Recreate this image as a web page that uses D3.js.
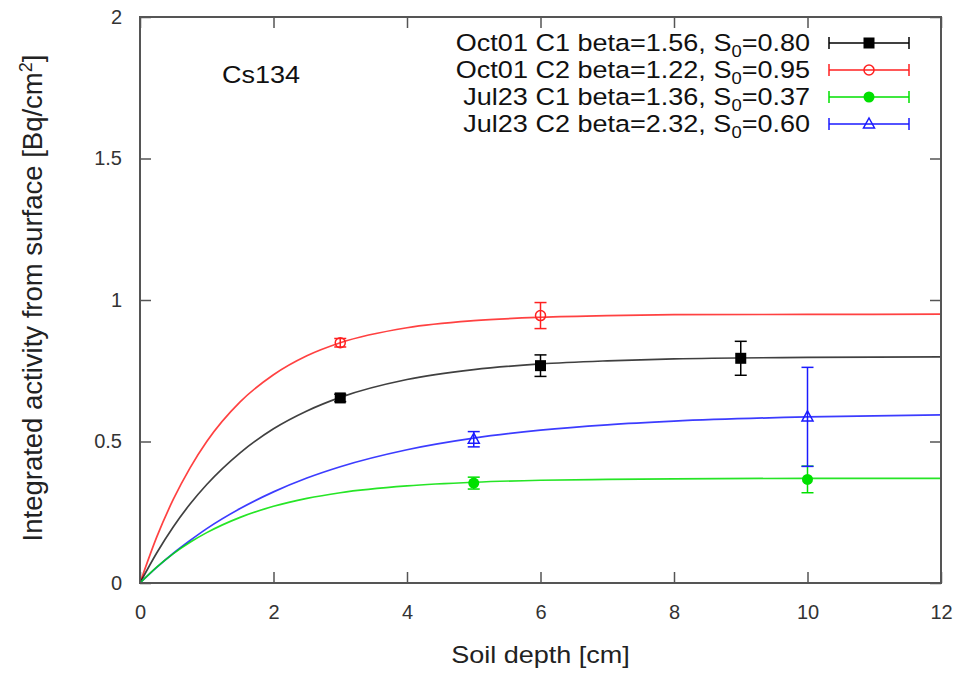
<!DOCTYPE html>
<html><head><meta charset="utf-8">
<script src="https://cdn.jsdelivr.net/npm/d3@7"></script>
<style>
html,body{margin:0;padding:0;background:#fff;}
text{font-family:"Liberation Sans",Arial,sans-serif;}
</style></head>
<body><svg id="chart" width="955" height="673"></svg>
<script>
// ---- data ----
const seriesNames = ["Oct01 C1", "Oct01 C2", "Jul23 C1", "Jul23 C2"];
const betaLabels = ["1.56", "1.22", "1.36", "2.32"];
const s0Labels = ["0.80", "0.95", "0.37", "0.60"];
const seriesColors = ["#000000", "#ff2020", "#00e000", "#1a1aff"];
const seriesMarkers = ["squareFilled", "circleOpen", "circleFilled", "triangleOpen"];

// measured points
const pointsX = [[3, 6, 9], [3, 6], [5, 10], [5, 10]];
const pointsY = [[0.654, 0.768, 0.794], [0.849, 0.945], [0.353, 0.366], [0.508, 0.587]];
const pointsErr = [[0.013, 0.038, 0.06], [0.015, 0.046], [0.021, 0.047], [0.027, 0.175]];

// fitted curves
const curveX = [0, 0.25, 0.5, 0.75, 1, 1.5, 2, 2.5, 3, 4, 5, 6, 7, 8, 10, 12];
const curveY = [
  [0, 0.106, 0.199, 0.279, 0.348, 0.460, 0.545, 0.608, 0.656, 0.719, 0.754, 0.774, 0.785, 0.792, 0.797, 0.799],
  [0, 0.162, 0.296, 0.407, 0.500, 0.640, 0.736, 0.803, 0.849, 0.902, 0.927, 0.939, 0.945, 0.948, 0.949, 0.950],
  [0, 0.056, 0.104, 0.144, 0.178, 0.232, 0.271, 0.299, 0.319, 0.343, 0.356, 0.363, 0.366, 0.368, 0.370, 0.370],
  [0, 0.055, 0.105, 0.150, 0.192, 0.263, 0.322, 0.371, 0.411, 0.471, 0.512, 0.540, 0.559, 0.572, 0.587, 0.594]
];

const xTicks = [0, 2, 4, 6, 8, 10, 12];
const yTicks = [0, 0.5, 1, 1.5, 2];
const xTitle = "Soil depth [cm]";
const yTitle = "Integrated activity from surface [Bq/cm";
const annotation = "Cs134";

// ---- layout ----
const L = 140, R = 941, T = 17, B = 583;
const SX = 1.15; // horizontal stretch of the text
const svg = d3.select("#chart");
const x = d3.scaleLinear().domain([0, 12]).range([L, R]);
const y = d3.scaleLinear().domain([0, 2]).range([B, T]);
const frameColor = "#555";

// ticks (inward, mirrored)
const tickLen = 11;
const axB = d3.axisBottom(x).tickValues(xTicks).tickSize(-tickLen).tickSizeOuter(0).tickPadding(22).tickFormat(d3.format("~g"));
const axT = d3.axisTop(x).tickValues(xTicks).tickSize(-tickLen).tickSizeOuter(0).tickFormat("");
const axL = d3.axisLeft(y).tickValues(yTicks).tickSize(-tickLen).tickSizeOuter(0).tickPadding(18).tickFormat(d3.format("~g"));
const axR = d3.axisRight(y).tickValues(yTicks).tickSize(-tickLen).tickSizeOuter(0).tickFormat("");

function styleAxis(g){
  g.select(".domain").remove();
  g.selectAll(".tick line").attr("stroke", frameColor).attr("stroke-width", 1.5);
  g.selectAll(".tick text").attr("fill", "#333").style("font-size", "20px").style("font-family", "'Liberation Sans',Arial,sans-serif");
}
svg.append("g").attr("transform", `translate(0,${B})`).call(axB).call(styleAxis);
svg.append("g").attr("transform", `translate(0,${T})`).call(axT).call(styleAxis);
svg.append("g").attr("transform", `translate(${L},0)`).call(axL).call(styleAxis);
svg.append("g").attr("transform", `translate(${R},0)`).call(axR).call(styleAxis);

// curves
const line = d3.line().x(d => x(d[0])).y(d => y(d[1])).curve(d3.curveMonotoneX);
svg.append("clipPath").attr("id", "clip").append("rect")
  .attr("x", L).attr("y", T).attr("width", R - L).attr("height", B - T);
const plot = svg.append("g").attr("clip-path", "url(#clip)");
[1, 0, 3, 2].forEach(i => {
  plot.append("path")
    .attr("d", line(curveX.map((cx, k) => [cx, curveY[i][k]])))
    .attr("fill", "none").attr("stroke", seriesColors[i])
    .attr("stroke-width", 1.7).attr("stroke-opacity", i === 0 ? 0.75 : 0.85);
});

// markers
function drawMarker(g, type, cx, cy, color){
  const s = 5;
  if (type === "squareFilled") {
    g.append("rect").attr("x", cx - s - 0.5).attr("y", cy - s - 0.5).attr("width", 2*s + 1).attr("height", 2*s + 1).attr("fill", color);
  } else if (type === "circleOpen") {
    g.append("circle").attr("cx", cx).attr("cy", cy).attr("r", s).attr("fill", "none").attr("stroke", color).attr("stroke-width", 1.5);
  } else if (type === "circleFilled") {
    g.append("circle").attr("cx", cx).attr("cy", cy).attr("r", s + 0.5).attr("fill", color);
  } else if (type === "triangleOpen") {
    g.append("path").attr("d", `M${cx},${cy - s - 1}L${cx + s + 0.5},${cy + s - 1}L${cx - s - 0.5},${cy + s - 1}Z`)
      .attr("fill", "none").attr("stroke", color).attr("stroke-width", 1.5);
  }
}
function errorBar(g, cx, y1, y2, color){
  const c = 6;
  g.append("line").attr("x1", cx).attr("x2", cx).attr("y1", y1).attr("y2", y2).attr("stroke", color).attr("stroke-width", 1.5);
  [y1, y2].forEach(yy => g.append("line").attr("x1", cx - c).attr("x2", cx + c).attr("y1", yy).attr("y2", yy).attr("stroke", color).attr("stroke-width", 1.5));
}
const pts = svg.append("g");
[0, 1, 2, 3].forEach(i => {
  pointsX[i].forEach((px, k) => {
    const cx = x(px), cy = y(pointsY[i][k]);
    errorBar(pts, cx, y(pointsY[i][k] + pointsErr[i][k]), y(pointsY[i][k] - pointsErr[i][k]), seriesColors[i]);
    drawMarker(pts, seriesMarkers[i], cx, cy, seriesColors[i]);
  });
});

// frame
svg.append("rect").attr("x", L).attr("y", T).attr("width", R - L).attr("height", B - T)
  .attr("fill", "none").attr("stroke", frameColor).attr("stroke-width", 2);

// legend
const legY0 = 43, legDy = 27, legTextX = 810, legX1 = 829, legX2 = 909;
const leg = svg.append("g");
seriesNames.forEach((name, i) => {
  const yy = legY0 + i * legDy;
  const t = leg.append("text").attr("transform", `translate(${legTextX},${yy + 8}) scale(${SX},1)`)
    .attr("text-anchor", "end").attr("fill", "#111").style("font-size", "23.5px");
  t.append("tspan").text(`${name} beta=${betaLabels[i]}, S`);
  t.append("tspan").attr("dy", 6).style("font-size", "16px").text("0");
  t.append("tspan").attr("dy", -6).text(`=${s0Labels[i]}`);
  leg.append("line").attr("x1", legX1).attr("x2", legX2).attr("y1", yy).attr("y2", yy).attr("stroke", seriesColors[i]).attr("stroke-width", 1.5);
  [legX1, legX2].forEach(xx => leg.append("line").attr("x1", xx).attr("x2", xx).attr("y1", yy - 6).attr("y2", yy + 6).attr("stroke", seriesColors[i]).attr("stroke-width", 1.5));
  drawMarker(leg, seriesMarkers[i], (legX1 + legX2) / 2, yy, seriesColors[i]);
});

// annotation
svg.append("text").attr("transform", `translate(222,83) scale(${SX},1)`).attr("fill", "#111")
  .style("font-size", "23.5px").text(annotation);

// axis titles
svg.append("text").attr("transform", `translate(${(L + R) / 2},663) scale(${SX},1)`).attr("text-anchor", "middle")
  .attr("fill", "#222").style("font-size", "23.5px").text(xTitle);
const yt = svg.append("text").attr("transform", "translate(42,298) rotate(-90)").attr("text-anchor", "middle")
  .attr("fill", "#222").style("font-size", "27.5px");
yt.append("tspan").text(yTitle);
yt.append("tspan").attr("dy", -10).style("font-size", "18px").text("2");
yt.append("tspan").attr("dy", 10).text("]");
</script></body></html>
